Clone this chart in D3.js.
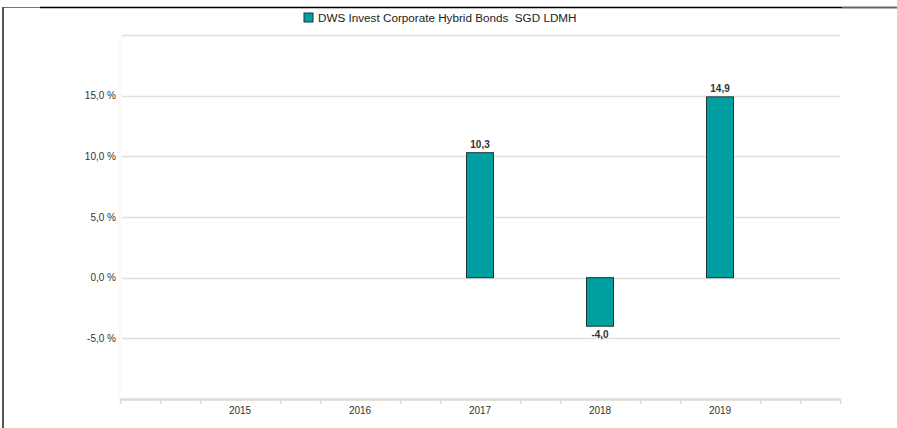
<!DOCTYPE html>
<html>
<head>
<meta charset="utf-8">
<script src="https://cdn.jsdelivr.net/npm/d3@7"></script>
<style>
  body { margin: 0; background: #fff; }
  svg { display: block; font-family: "Liberation Sans", Arial, sans-serif; }
</style>
</head>
<body>
<svg id="chart"></svg>
<script>
// data
const years = [2015, 2016, 2017, 2018, 2019];
const values = [null, null, 10.3, -4.0, 14.9];
const yTicks = [-5, 0, 5, 10, 15];
const seriesName = "DWS Invest Corporate Hybrid Bonds  SGD LDMH";

const W = 897, H = 428;
const margin = {top: 35, right: 57, bottom: 29, left: 120};

const svg = d3.select("#chart")
    .attr("width", W)
    .attr("height", H);

const x = d3.scaleLinear()
    .domain([2014, 2020])
    .range([margin.left, W - margin.right]);

const y = d3.scaleLinear()
    .domain([-10, 20])
    .range([H - margin.bottom, margin.top]);

const fmt = v => d3.format(".1f")(v).replace(".", ",").replace("−", "-");

// frame
svg.append("line")
    .attr("x1", 40).attr("x2", 842).attr("y1", 7.5).attr("y2", 7.5)
    .attr("stroke", "#000").attr("stroke-width", 1.5);
svg.append("line")
    .attr("x1", 2).attr("x2", 40).attr("y1", 7.5).attr("y2", 7.5)
    .attr("stroke", "#777").attr("stroke-width", 1);
svg.append("line")
    .attr("x1", 842).attr("x2", W).attr("y1", 7.5).attr("y2", 7.5)
    .attr("stroke", "#666").attr("stroke-width", 2);
svg.append("line")
    .attr("x1", 3).attr("x2", 3).attr("y1", 7).attr("y2", H)
    .attr("stroke", "#555").attr("stroke-width", 2);

// faint plot edge
svg.append("line")
    .attr("x1", margin.left).attr("x2", margin.left)
    .attr("y1", margin.top).attr("y2", H - margin.bottom)
    .attr("stroke", "#f4f4f2");

// grid lines (20 at top, no label)
const gridVals = yTicks.concat([20]);
svg.append("g")
    .selectAll("line")
    .data(gridVals)
    .join("line")
    .attr("x1", margin.left + 2)
    .attr("x2", W - margin.right)
    .attr("y1", d => Math.round(y(d)) + 0.5)
    .attr("y2", d => Math.round(y(d)) + 0.5)
    .attr("stroke", "#e2dfd8")
    .attr("stroke-width", 1.5);

// y labels
svg.append("g")
    .attr("font-size", 10)
    .attr("fill", "#333")
    .attr("text-anchor", "end")
    .selectAll("text")
    .data(yTicks)
    .join("text")
    .attr("x", margin.left - 4)
    .attr("y", d => y(d))
    .attr("dy", "0.35em")
    .text(d => fmt(d) + " %");

// x axis
const minorTicks = d3.range(0, 19).map(k => 2014 + k / 3)
    .filter(t => Math.abs(t - Math.round(t)) > 0.01 || t === 2014 || t === 2020);

const xAxis = svg.append("g")
    .attr("transform", `translate(0,${H - margin.bottom})`)
    .call(d3.axisBottom(x).tickValues(minorTicks).tickSize(5).tickFormat("").tickSizeOuter(0));
xAxis.select(".domain").attr("stroke", "#ddd9cf").attr("stroke-width", 2.5);
xAxis.selectAll(".tick line").attr("stroke", "#ddd9cf").attr("stroke-width", 1.5);

svg.append("g")
    .attr("font-size", 10)
    .attr("fill", "#333")
    .attr("text-anchor", "middle")
    .selectAll("text")
    .data(years)
    .join("text")
    .attr("x", d => x(d))
    .attr("y", H - margin.bottom + 11)
    .attr("dy", "0.35em")
    .text(d => d);

// bars
const barW = 27;
const data = years.map((yr, i) => ({year: yr, value: values[i]})).filter(d => d.value !== null);

svg.append("g")
    .selectAll("rect")
    .data(data)
    .join("rect")
    .attr("x", d => x(d.year) - barW / 2)
    .attr("y", d => y(Math.max(0, d.value)))
    .attr("width", barW)
    .attr("height", d => Math.abs(y(d.value) - y(0)))
    .attr("fill", "#00a0a2")
    .attr("stroke", "#1c3434")
    .attr("stroke-width", 1);

// value labels
svg.append("g")
    .attr("font-size", 10)
    .attr("font-weight", "bold")
    .attr("fill", "#333")
    .attr("text-anchor", "middle")
    .selectAll("text")
    .data(data)
    .join("text")
    .attr("x", d => x(d.year))
    .attr("y", d => d.value >= 0 ? y(d.value) - 5 : y(d.value) + 12)
    .text(d => fmt(d.value));

// legend
const legend = svg.append("g").attr("transform", "translate(304,13)");
legend.append("rect")
    .attr("width", 9).attr("height", 9)
    .attr("fill", "#00a0a2").attr("stroke", "#1c3434");
legend.append("text")
    .attr("x", 14).attr("y", 9)
    .attr("font-size", 11.7)
    .attr("fill", "#222")
    .style("white-space", "pre")
    .text(seriesName);
</script>
</body>
</html>
